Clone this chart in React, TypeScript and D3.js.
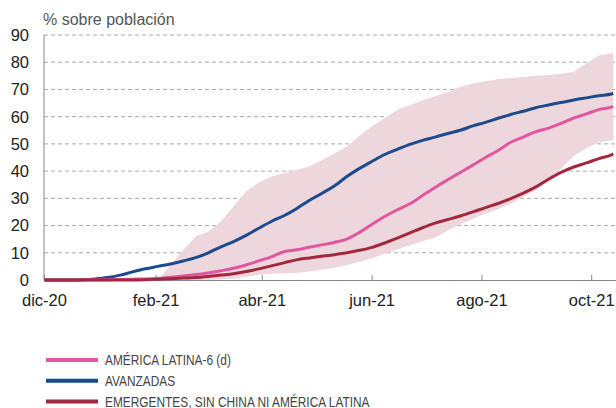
import React from "react";
import * as d3 from "d3";

const dates = [
  "2020-12-01","2020-12-08","2020-12-15","2020-12-22","2020-12-29",
  "2021-01-05","2021-01-12","2021-01-19","2021-01-26",
  "2021-02-02","2021-02-09","2021-02-16","2021-02-23",
  "2021-03-02","2021-03-09","2021-03-16","2021-03-23","2021-03-30",
  "2021-04-06","2021-04-13","2021-04-20","2021-04-27",
  "2021-05-04","2021-05-11","2021-05-18","2021-05-25",
  "2021-06-01","2021-06-08","2021-06-15","2021-06-22","2021-06-29",
  "2021-07-06","2021-07-13","2021-07-20","2021-07-27",
  "2021-08-03","2021-08-10","2021-08-17","2021-08-24","2021-08-31",
  "2021-09-07","2021-09-14","2021-09-21","2021-09-28",
  "2021-10-05","2021-10-12","2021-10-13",
];

const avanzadas = [0,0,0,0.1,0.4,0.9,1.8,3.0,4.1,5.0,5.9,7.0,8.2,10.0,12.2,14.1,16.4,19.0,21.5,23.6,26.2,29.2,31.8,34.5,38.0,41.0,43.6,46.1,48.0,49.8,51.3,52.5,53.8,55.0,56.6,57.9,59.4,60.8,62.0,63.3,64.3,65.2,66.1,66.9,67.7,68.3,68.5];

const americaLatina = [0,0,0,0,0.1,0.1,0.2,0.3,0.4,0.6,1.0,1.5,2.0,2.6,3.4,4.3,5.5,7.0,8.5,10.4,11.1,12.0,12.9,13.8,15.0,17.5,20.5,23.3,25.8,28.0,31.0,34.0,36.8,39.5,42.2,45.0,47.6,50.6,52.5,54.5,55.8,57.5,59.5,61.0,62.6,63.5,63.7];

const emergentes = [0,0,0,0,0,0,0,0,0.1,0.3,0.5,0.7,0.9,1.3,1.8,2.3,3.1,4.1,5.2,6.3,7.4,8.1,8.7,9.3,10.0,10.9,12.0,13.6,15.4,17.3,19.2,20.9,22.2,23.5,25.0,26.6,28.1,29.9,31.9,34.2,37.0,39.5,41.5,43.0,44.6,46.0,46.3];

const rangoMax = [null,null,null,null,null,null,null,null,null,0,5.5,11,16,17.8,21.5,27,32.5,35.8,38,39.2,40.5,41.7,44,46.5,49,53,56.5,59.5,62.5,64.2,66,67.5,69,71,72.2,73,73.7,74.2,74.6,75,75.3,75.8,76.5,79.5,82.5,83.3,83.3];

const rangoMin = [null,null,null,null,null,null,null,null,null,0,0,0,0,0,0.3,0.5,1.2,1.9,2.3,2.5,2.6,3.1,3.8,4.5,5.5,6.7,8,9.6,11.3,12.8,14.2,15.6,18.2,20.5,22.5,24.4,26.0,28.0,30.6,33.0,36.5,41,45.5,48.5,50.5,51.3,51.4];

const yTicks = [0,10,20,30,40,50,60,70,80,90];
const xTickDates = ["2020-12-01","2021-02-01","2021-04-01","2021-06-01","2021-08-01","2021-10-01"];
const xTickLabels = ["dic-20","feb-21","abr-21","jun-21","ago-21","oct-21"];

const legendLabels = ["AMÉRICA LATINA-6 (d)","AVANZADAS","EMERGENTES, SIN CHINA NI AMÉRICA LATINA"];
const colors = { pink: "#e0579f", blue: "#1b4a8d", red: "#a2283f", band: "#eed7dc" };

export default function App() {
  const W = 616, H = 408;
  const parse = d3.utcParse("%Y-%m-%d");
  const xs = dates.map((d) => parse(d) as Date);
  const x0 = parse("2020-12-01") as Date;
  const x1 = parse("2021-10-14") as Date;
  const x = d3.scaleUtc().domain([x0, x1]).range([44.5, 44.5 + 317 * 1.8]);
  const y = d3.scaleLinear().domain([0, 90]).range([280, 35]);

  const line = (vals: number[]) =>
    d3.line<number>().x((_, i) => x(xs[i])).y((v) => y(v)).curve(d3.curveMonotoneX)(vals) || "";

  const area = d3
    .area<number>()
    .defined((_, i) => rangoMax[i] != null && rangoMin[i] != null)
    .x((_, i) => x(xs[i]))
    .y0((_, i) => y(rangoMin[i] as number))
    .y1((_, i) => y(rangoMax[i] as number));
  const bandPath = area(dates.map((_, i) => i)) || "";

  const font = "'Liberation Sans', Arial, Helvetica, sans-serif";

  const series = [
    { vals: americaLatina, color: colors.pink },
    { vals: avanzadas, color: colors.blue },
    { vals: emergentes, color: colors.red },
  ];

  return (
    <svg width={W} height={H} style={{ position: "absolute", left: 0, top: 0, background: "#fff" }}>
      <text x={43} y={25} fontFamily={font} fontSize={16} fill="#555">% sobre población</text>
      {yTicks.map((t) => (
        <g key={t}>
          {t > 0 && (
            <line x1={44} x2={616} y1={y(t)} y2={y(t)} stroke="#aaa" strokeWidth={1} strokeDasharray="4,3" />
          )}
          <text x={29} y={y(t)} dy="0.36em" textAnchor="end" fontFamily={font} fontSize={16.5} fill="#222">{t}</text>
        </g>
      ))}
      <path d={bandPath} fill={colors.band} />
      <line x1={44} x2={44} y1={35} y2={280} stroke="#888" strokeWidth={1} />
      <line x1={44} x2={616} y1={280.5} y2={280.5} stroke="#888" strokeWidth={1} />
      {xTickDates.map((d, i) => {
        const px = x(parse(d) as Date);
        return (
          <g key={d}>
            <line x1={px} x2={px} y1={275} y2={280} stroke="#888" strokeWidth={1} />
            <text x={px} y={306} textAnchor="middle" fontFamily={font} fontSize={16.5} fill="#222">{xTickLabels[i]}</text>
          </g>
        );
      })}
      {[series[1], series[0], series[2]].map((s, i) => (
        <path key={i} d={line(s.vals)} fill="none" stroke={s.color} strokeWidth={3} strokeLinejoin="round" />
      ))}
      {series.map((s, i) => {
        const ly = 360 + i * 20.8;
        return (
          <g key={i}>
            <line x1={46} x2={98} y1={ly} y2={ly} stroke={s.color} strokeWidth={4} />
            <text
              transform={`translate(105,${ly}) scale(0.82,1)`}
              dy="0.36em"
              fontFamily={font}
              fontSize={14.5}
              fill="#444"
            >
              {legendLabels[i]}
            </text>
          </g>
        );
      })}
    </svg>
  );
}
